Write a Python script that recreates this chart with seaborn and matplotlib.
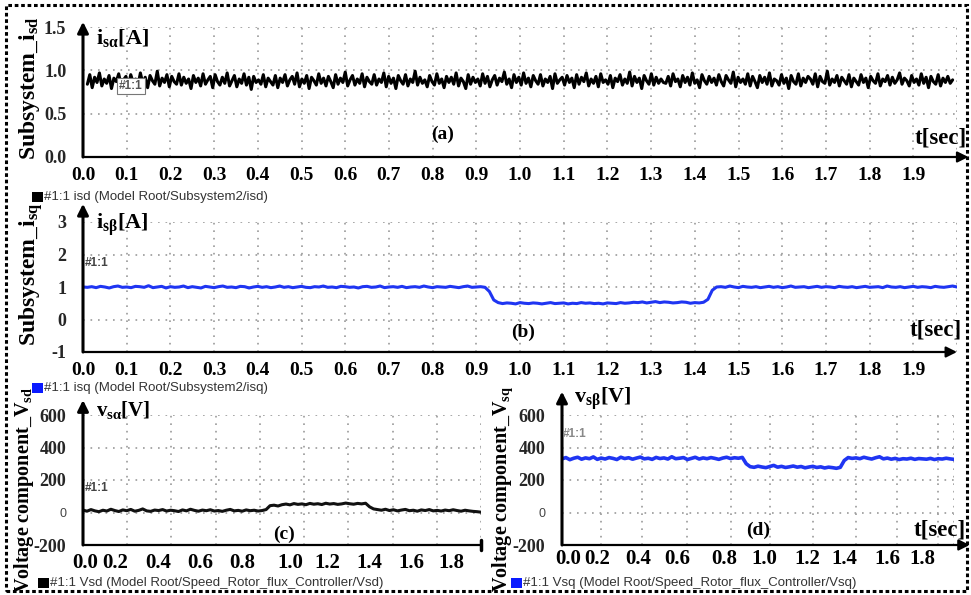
import numpy as np
import pandas as pd
import matplotlib
matplotlib.use("Agg")
import matplotlib.pyplot as plt
import seaborn as sns
from matplotlib.patches import Rectangle

# ---------------- data ----------------
# (a) isd : noisy current around 0.89 A
isd_vals = [
    0.84, 0.95, 0.80, 0.92, 0.86, 0.97, 0.82, 0.90, 0.85, 0.94, 0.79, 0.91, 0.87, 0.96, 0.83, 0.89, 0.93, 0.81, 0.95, 0.86,
    0.90, 0.83, 0.97, 0.85, 0.92, 0.80, 0.94, 0.88, 0.84, 0.99, 0.82, 0.91, 0.86, 0.95, 0.81, 0.93, 0.87, 0.84, 0.96, 0.83,
    0.92, 0.85, 0.90, 0.79, 0.94, 0.86, 0.91, 0.82, 0.96, 0.84, 0.89, 0.93, 0.80, 0.95, 0.87, 0.83, 0.92, 0.85, 0.97, 0.82,
    0.88, 0.94, 0.81, 0.90, 0.85, 0.96, 0.83, 0.92, 0.78, 0.93, 0.86, 0.89, 0.84, 0.95, 0.81, 0.91, 0.87, 0.83, 0.94, 0.80,
    0.91, 0.86, 0.95, 0.82, 0.89, 0.93, 0.84, 0.97, 0.81, 0.90, 0.85, 0.94, 0.79, 0.92, 0.88, 0.83, 0.96, 0.85, 0.91, 0.82,
    0.93, 0.87, 0.80, 0.95, 0.84, 0.91, 0.86, 0.98, 0.82, 0.89, 0.94, 0.83, 0.90, 0.85, 0.96, 0.81, 0.92, 0.87, 0.84, 0.95,
    0.83, 0.90, 0.86, 0.97, 0.81, 0.93, 0.85, 0.91, 0.79, 0.94, 0.88, 0.84, 0.95, 0.82, 0.90, 0.86, 0.99, 0.83, 0.92, 0.85,
    0.89, 0.81, 0.94, 0.87, 0.83, 0.96, 0.85, 0.90, 0.80, 0.93, 0.86, 0.92, 0.84, 0.97, 0.82, 0.91, 0.87, 0.79, 0.95, 0.84,
    0.92, 0.86, 0.90, 0.82, 0.96, 0.85, 0.93, 0.81, 0.89, 0.94, 0.83, 0.91, 0.87, 0.98, 0.84, 0.90, 0.80, 0.95, 0.86, 0.92,
    0.83, 0.97, 0.85, 0.91, 0.81, 0.94, 0.88, 0.84, 0.95, 0.82, 0.90, 0.86, 0.93, 0.79, 0.96, 0.85, 0.89, 0.92, 0.83, 0.94,
    0.86, 0.91, 0.80, 0.95, 0.84, 0.92, 0.87, 0.97, 0.82, 0.90, 0.85, 0.93, 0.81, 0.96, 0.86, 0.89, 0.84, 0.94, 0.80, 0.91,
    0.87, 0.95, 0.83, 0.90, 0.85, 0.98, 0.82, 0.93, 0.86, 0.91, 0.79, 0.94, 0.88, 0.84, 0.96, 0.83, 0.92, 0.85, 0.90, 0.86,
    0.85, 0.93, 0.82, 0.96, 0.87, 0.90, 0.81, 0.94, 0.86, 0.92, 0.83, 0.97, 0.85, 0.89, 0.80, 0.95, 0.88, 0.84, 0.93, 0.86,
    0.91, 0.83, 0.95, 0.87, 0.82, 0.94, 0.89, 0.85, 0.98, 0.81, 0.92, 0.86, 0.90, 0.84, 0.96, 0.82, 0.93, 0.87, 0.80, 0.94,
    0.86, 0.92, 0.84, 0.97, 0.82, 0.90, 0.88, 0.83, 0.95, 0.85, 0.91, 0.79, 0.94, 0.87, 0.84, 0.96, 0.82, 0.91, 0.86, 0.93,
    0.90, 0.84, 0.96, 0.81, 0.93, 0.87, 0.85, 0.99, 0.83, 0.90, 0.86, 0.94, 0.82, 0.92, 0.88, 0.84, 0.95, 0.81, 0.91, 0.87,
    0.83, 0.95, 0.86, 0.91, 0.80, 0.93, 0.88, 0.85, 0.96, 0.82, 0.90, 0.87, 0.94, 0.83, 0.92, 0.85, 0.89, 0.97, 0.84, 0.91,
    0.88, 0.82, 0.94, 0.86, 0.90, 0.83, 0.96, 0.85, 0.92, 0.80, 0.93, 0.87, 0.84, 0.95, 0.82, 0.91, 0.86, 0.93, 0.85, 0.89,
]
isd_t_start, isd_t_end = 0.01, 1.99

# (b) isq : 1 A, dips to 0.5 A between 0.93 s and 1.44 s (sampled every 0.01 s)
isq_vals = [
    1.00, 0.99, 1.01, 0.98, 1.02, 1.00, 0.97, 1.01, 1.03, 0.99,
    1.00, 0.98, 1.02, 1.01, 0.99, 1.04, 0.98, 1.00, 1.02, 0.97,
    1.01, 0.99, 1.00, 1.03, 0.98, 1.01, 0.99, 0.97, 1.02, 1.00,
    0.98, 1.01, 1.03, 0.99, 1.00, 0.98, 1.02, 1.01, 0.97, 1.00,
    1.02, 0.99, 1.01, 0.98, 1.00, 1.03, 0.99, 1.01, 0.98, 1.00,
    1.02, 0.99, 0.98, 1.01, 1.00, 1.03, 0.99, 1.00, 0.98, 1.02,
    1.01, 0.99, 1.00, 0.97, 1.01, 1.02, 0.99, 1.00, 1.03, 0.98,
    1.00, 1.01, 0.99, 1.02, 0.98, 1.00, 1.01, 0.99, 1.03, 1.00,
    0.98, 1.01, 1.00, 0.99, 1.02, 1.00, 0.98, 1.01, 1.03, 0.99,
    1.00, 1.01, 0.99,
    0.86, 0.60, 0.52,
    0.49, 0.51, 0.50, 0.48, 0.52, 0.50, 0.49, 0.51, 0.50, 0.48,
    0.50, 0.52, 0.49, 0.50, 0.51, 0.48, 0.50, 0.49, 0.52, 0.50,
    0.51, 0.49, 0.50, 0.48, 0.51, 0.50, 0.49, 0.52, 0.50, 0.51,
    0.53, 0.52, 0.54, 0.51, 0.53, 0.55, 0.52, 0.54, 0.53, 0.51,
    0.52, 0.54, 0.53, 0.50, 0.52, 0.51, 0.53,
    0.62, 0.90, 1.00,
    1.01, 0.99, 1.03, 1.00, 0.98, 1.02, 1.00, 0.99, 1.01, 0.98,
    1.00, 1.02, 0.99, 1.01, 0.98, 1.00, 1.03, 0.99, 1.00, 1.01,
    0.98, 1.00, 1.02, 0.99, 1.01, 1.00, 0.98, 1.02, 1.00, 0.99,
    1.01, 0.98, 1.00, 1.02, 0.99, 1.00, 1.01, 0.98, 1.03, 1.00,
    0.99, 1.01, 0.98, 1.00, 1.02, 0.99, 1.01, 1.00, 0.98, 1.02,
    1.00, 0.99, 1.01, 1.03, 1.00,
]
isq_dt = 0.01

# (c) Vsd [V] sampled every 0.02 s
vsd_vals = [
    15, 8, 18, 10, 5, 14, 9, 20, 12, 6,
    16, 11, 19, 8, 13, 22, 10, 7, 15, 12,
    18, 9, 14, 11, 6, 16, 10, 20, 13, 8,
    15, 11, 17, 9, 12, 7, 14, 19, 10, 13,
    8, 16, 11, 14, 9, 12, 18,
    42,
    45, 40, 48, 52, 47, 55, 50, 53, 48, 56, 51, 54, 49, 57, 52, 55, 50, 53, 58, 54, 51, 56, 53, 57,
    35,
    22, 18, 14, 20, 12, 17, 10, 15, 19, 11, 14, 8, 16, 12, 18, 10, 13, 9, 15, 11, 17, 12, 8, 14, 10, 7, 5, 2,
]
# (d) Vsq [V] sampled every 0.02 s
vsq_vals = [
    330, 338, 325, 334, 340, 328, 336, 331, 342, 327,
    335, 329, 338, 333, 326, 340, 332, 337, 328, 335,
    341, 330, 334, 327, 339, 332, 336, 329, 343, 331,
    334, 338, 326, 333, 340, 329, 336, 331, 338, 333,
    327, 335, 340, 332, 337, 334, 339,
    300,
    282, 278, 285, 280, 276, 283, 290, 279, 284, 277, 281, 286, 279, 283, 275, 280, 284, 277, 281, 274, 279, 276, 272, 278,
    320,
    338, 333, 336, 331, 340, 334, 329, 337, 343, 330, 335, 328, 333, 326, 331, 329, 334, 327, 332, 330, 328, 333, 326, 331, 329, 334, 330, 327,
]
v_dt = 0.02

# tick labels
ab_xticklabels = ["0.0", "0.1", "0.2", "0.3", "0.4", "0.5", "0.6", "0.7", "0.8", "0.9",
                  "1.0", "1.1", "1.2", "1.3", "1.4", "1.5", "1.6", "1.7", "1.8", "1.9"]
cd_xticklabels = ["0.0", "0.2", "0.4", "0.6", "0.8", "1.0", "1.2", "1.4", "1.6", "1.8"]
a_yticklabels = ["0.0", "0.5", "1.0", "1.5"]
b_yticklabels = ["-1", "0", "1", "2", "3"]
cd_yticklabels = ["-200", "0", "200", "400", "600"]

legend_a = "#1:1 isd (Model Root/Subsystem2/isd)"
legend_b = "#1:1 isq (Model Root/Subsystem2/isq)"
legend_c = "#1:1 Vsd (Model Root/Speed_Rotor_flux_Controller/Vsd)"
legend_d = "#1:1 Vsq (Model Root/Speed_Rotor_flux_Controller/Vsq)"

# ---------------- style ----------------
sns.set_style("white")
plt.rcParams["font.family"] = ["Liberation Serif", "DejaVu Serif"]
plt.rcParams["mathtext.fontset"] = "custom"
plt.rcParams["mathtext.bf"] = "Liberation Serif:bold"
plt.rcParams["mathtext.rm"] = "Liberation Serif:bold"
plt.rcParams["mathtext.it"] = "Liberation Serif:bold"

W, H = 971, 595
fig = plt.figure(figsize=(W / 100, H / 100), dpi=100)
fig.patch.set_facecolor("white")

BLUE = "#1f35f2"
GRID = "#9a9a9a"


def box(l, t, r, b):
    return [l / W, 1 - b / H, (r - l) / W, (b - t) / H]


def ftext(px, py, s, **kw):
    return fig.text(px / W, 1 - py / H, s, **kw)


ax_a = fig.add_axes(box(83, 27, 957, 157))
ax_b = fig.add_axes(box(83, 222, 957, 352))
ax_c = fig.add_axes(box(83, 415, 481, 545))
ax_d = fig.add_axes(box(562, 415, 954, 545))

# data frames
df_a = pd.DataFrame({"t": np.linspace(isd_t_start, isd_t_end, len(isd_vals)), "v": isd_vals})
df_b = pd.DataFrame({"t": np.arange(len(isq_vals)) * isq_dt, "v": isq_vals})
df_c = pd.DataFrame({"t": np.arange(len(vsd_vals)) * v_dt, "v": vsd_vals})
df_d = pd.DataFrame({"t": np.arange(len(vsq_vals)) * v_dt, "v": vsq_vals})

sns.lineplot(data=df_a, x="t", y="v", ax=ax_a, color="black", linewidth=2.2, zorder=3)
sns.lineplot(data=df_b, x="t", y="v", ax=ax_b, color=BLUE, linewidth=2.2, zorder=3)
sns.lineplot(data=df_c, x="t", y="v", ax=ax_c, color="#111111", linewidth=2.2, zorder=3)
sns.lineplot(data=df_d, x="t", y="v", ax=ax_d, color=BLUE, linewidth=2.6, zorder=3)


def style(ax, ylim, vgrid, hgrid, xt_pos, xt_lab, x_major_len, xminor, yt_pos, yt_lab,
          yminor, xfs, yfs, xpad, xarrow, yarrow, xend_bar=False):
    ax.set_xlim(0, 2.0)
    ax.set_ylim(*ylim)
    ax.set_facecolor("none")
    for s in ax.spines.values():
        s.set_visible(False)
    ax.set_xlabel("")
    ax.set_ylabel("")
    for g in vgrid:
        ax.axvline(g, color=GRID, lw=1.2, ls=(0, (1, 3.5)), zorder=1)
    for g in hgrid:
        ax.axhline(g, color=GRID, lw=1.2, ls=(0, (1, 3.5)), zorder=1)
    ax.set_xticks(xt_pos)
    ax.set_xticklabels(xt_lab, fontsize=xfs, fontweight="bold", family="Liberation Serif")
    ax.set_xticks(xminor, minor=True)
    ax.set_yticks(yt_pos)
    ax.set_yticklabels(yt_lab, fontsize=yfs, fontweight="bold", family="Liberation Serif")
    ax.set_yticks(yminor, minor=True)
    ax.tick_params(axis="x", which="major", length=x_major_len, direction="inout", width=1,
                   pad=xpad, colors="black")
    ax.tick_params(axis="x", which="minor", length=6, direction="inout", width=1)
    ax.tick_params(axis="y", which="both", length=4, direction="out", width=1, pad=8)
    ax.tick_params(axis="y", which="minor", length=3)
    # axis arrows
    ap = dict(arrowstyle="-|>", color="black", lw=1.6, mutation_scale=16, shrinkA=0, shrinkB=0)
    if xend_bar:
        ax.plot([0, xarrow], [0, 0], transform=ax.transAxes, color="black", lw=1.6,
                clip_on=False, zorder=4)
        ax.plot([xarrow, xarrow], [-0.04, 0.04], transform=ax.transAxes, color="black", lw=2.5,
                clip_on=False, zorder=4)
    else:
        ax.annotate("", xy=(xarrow, 0), xytext=(0, 0), xycoords="axes fraction",
                    textcoords="axes fraction", arrowprops=ap, annotation_clip=False, zorder=4)
    ax.annotate("", xy=(0, yarrow), xytext=(0, 0), xycoords="axes fraction",
                textcoords="axes fraction", arrowprops=dict(ap, lw=2.2), annotation_clip=False,
                zorder=4)


ab_vgrid = [k / 10 for k in range(1, 21)]
ab_xpos = [k / 10 for k in range(20)]
style(ax_a, (0, 1.5), ab_vgrid, [0.5, 1.0, 1.5], ab_xpos, ab_xticklabels, 6,
      [k / 20 for k in range(40)], [0, 0.5, 1.0, 1.5], a_yticklabels,
      [0.25, 0.75, 1.25], 14, 13, 4, 1.013, 1.04)
style(ax_b, (-1, 3), ab_vgrid, [0, 1, 2, 3], ab_xpos, ab_xticklabels, 6,
      [k / 20 for k in range(40)], [-1, 0, 1, 2, 3], b_yticklabels,
      [-0.5, 0.5, 1.5, 2.5], 14, 13, 4, 1.0, 1.14)
c_xpos = [0.01, 0.16, 0.38, 0.59, 0.80, 1.04, 1.23, 1.44, 1.65, 1.85]
style(ax_c, (-200, 600), [2 * k / 9 for k in range(1, 10)], [0, 200, 400, 600], c_xpos,
      cd_xticklabels, 0, [k / 10 for k in range(1, 21)], [-200, 0, 200, 400, 600],
      cd_yticklabels, [-100, 100, 300, 500], 15, 13, 6, 1.0, 1.115, xend_bar=True)
d_xpos = [0.03, 0.18, 0.39, 0.59, 0.83, 1.03, 1.25, 1.44, 1.66, 1.84]
style(ax_d, (-200, 600), [0.20, 0.41, 0.64, 0.86, 1.06, 1.28, 1.50, 1.71, 1.92, 2.0],
      [0, 200, 400, 600], d_xpos, cd_xticklabels, 0, [k / 10 for k in range(1, 21)],
      [-200, 0, 200, 400, 600], cd_yticklabels, [-100, 100, 300, 500], 15, 13, 3, 1.04, 1.18)

# the "0" labels on voltage plots are the small original scope labels
for ax in (ax_c, ax_d):
    for lbl in ax.get_yticklabels():
        if lbl.get_text() == "0":
            lbl.set_fontfamily("Liberation Sans")
            lbl.set_fontweight("normal")
            lbl.set_fontsize(9)
            lbl.set_color("#444444")

SB = dict(family="Liberation Serif", fontweight="bold", color="black")

# quantity names
ftext(96, 38, r"i$_{\mathbf{s\alpha}}$[A]", fontsize=16, ha="left", va="center", **SB)
ftext(96, 225, r"i$_{\mathbf{s\beta}}$[A]", fontsize=16, ha="left", va="center", **SB)
ftext(96, 410, r"v$_{\mathbf{s\alpha}}$[V]", fontsize=15, ha="left", va="center", **SB)
ftext(574, 399, r"v$_{\mathbf{s\beta}}$[V]", fontsize=16, ha="left", va="center", **SB)

# panel letters
ftext(443, 134, "(a)", fontsize=14, ha="center", va="center", **SB)
ftext(523, 332, "(b)", fontsize=14, ha="center", va="center", **SB)
ftext(284, 534, "(c)", fontsize=14, ha="center", va="center", **SB)
ftext(758, 530, "(d)", fontsize=14, ha="center", va="center", **SB)

# t[sec]
ftext(967, 138, "t[sec]", fontsize=16.5, ha="right", va="center", **SB)
ftext(962, 330, "t[sec]", fontsize=16.5, ha="right", va="center", **SB)
ftext(966, 530, "t[sec]", fontsize=16.5, ha="right", va="center", **SB)

# y-axis titles
ftext(30, 88, r"Subsystem_i$_{\mathbf{sd}}$", fontsize=17, rotation=90, ha="center", va="center", **SB)
ftext(31, 274, r"Subsystem_i$_{\mathbf{sq}}$", fontsize=17, rotation=90, ha="center", va="center", **SB)
ftext(24, 490, r"Voltage component_V$_{\mathbf{sd}}$", fontsize=14.5, rotation=90, ha="center", va="center", **SB)
ftext(503, 489, r"Voltage component_V$_{\mathbf{sq}}$", fontsize=14.5, rotation=90, ha="center", va="center", **SB)

# scope legend lines
LEG = dict(family="Liberation Sans", fontsize=9.5, color="#333333", ha="left", va="center")
for (sx, sy, col, txt) in [(32, 197, "black", legend_a), (32, 388, "#0a1aff", legend_b),
                           (38, 583, "black", legend_c), (511, 583, "#0a1aff", legend_d)]:
    fig.patches.append(Rectangle((sx / W, 1 - (sy + 5) / H), 11 / W, 10 / H, transform=fig.transFigure,
                                 facecolor=col, edgecolor=col, lw=0))
    ftext(sx + 12, sy, txt, **LEG)

# "#1:1" trace tags
ftext(119, 86, "#1:1", family="Liberation Sans", fontsize=8.5, fontweight="bold", color="#555555",
      ha="left", va="center",
      bbox=dict(boxstyle="square,pad=0.15", facecolor="white", edgecolor="#777777", lw=0.8))
ftext(85, 263, "#1:1", family="Liberation Sans", fontsize=8.5, fontweight="bold", color="#444444",
      ha="left", va="center")
ftext(85, 488, "#1:1", family="Liberation Sans", fontsize=8.5, fontweight="bold", color="#444444",
      ha="left", va="center")
ftext(563, 434, "#1:1", family="Liberation Sans", fontsize=8.5, fontweight="bold", color="#888888",
      ha="left", va="center")

# dashed frame around the whole figure
fig.patches.append(Rectangle((6 / W, 1 - 591 / H), 961 / W, 586 / H, transform=fig.transFigure,
                             fill=False, edgecolor="black", lw=2.2, ls=(0, (1.2, 0.9))))

fig.savefig("out.png", dpi=100, facecolor="white")
